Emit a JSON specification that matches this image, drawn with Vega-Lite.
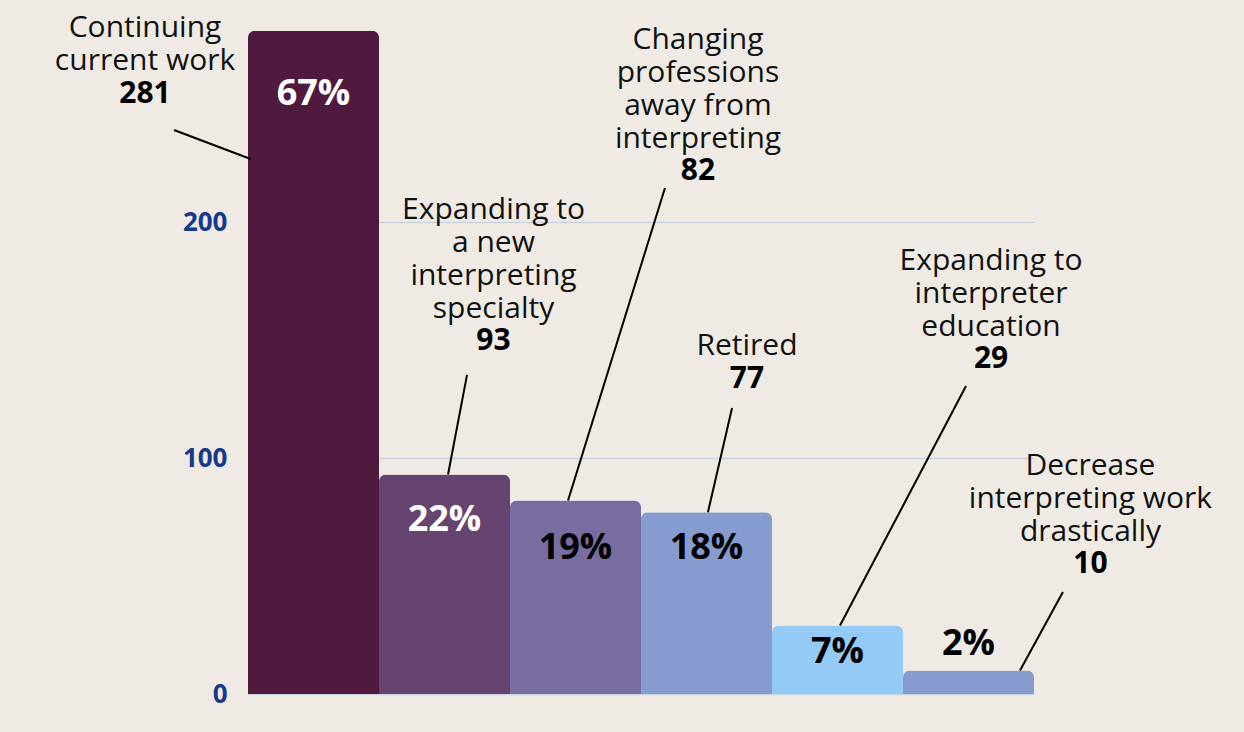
{
  "$schema": "https://vega.github.io/schema/vega-lite/v6.json",
  "width": 786,
  "height": 694,
  "autosize": {"type": "none"},
  "padding": {"left": 248, "top": 0, "right": 210, "bottom": 38},
  "background": "#efebe4",
  "config": {"view": {"stroke": null}, "font": "Open Sans"},
  "datasets": {
    "bars": [
      {"category": "Continuing current work", "count": 281, "pct": "67%", "pctY": 254.4},
      {"category": "Expanding to a new interpreting specialty", "count": 93, "pct": "22%", "pctY": 73.9},
      {"category": "Changing professions away from interpreting", "count": 82, "pct": "19%", "pctY": 61.7},
      {"category": "Retired", "count": 77, "pct": "18%", "pctY": 61.7},
      {"category": "Expanding to interpreter education", "count": 29, "pct": "7%", "pctY": 18.0},
      {"category": "Decrease interpreting work drastically", "count": 10, "pct": "2%", "pctY": 21.0}
    ],
    "notes": [
      {"label": "Continuing\ncurrent work", "count": 281, "lx": -0.786, "ty": 288.5, "ny": 250.4, "ax1": -0.565, "ay1": 239.0, "ax2": 0.02, "ay2": 226.7},
      {"label": "Expanding to\na new\ninterpreting\nspecialty", "count": 93, "lx": 1.874, "ty": 211.4, "ny": 145.8, "ax1": 1.672, "ay1": 135.2, "ax2": 1.527, "ay2": 93},
      {"label": "Changing\nprofessions\naway from\ninterpreting", "count": 82, "lx": 3.435, "ty": 283.5, "ny": 217.8, "ax1": 3.183, "ay1": 214.4, "ax2": 2.443, "ay2": 82},
      {"label": "Retired", "count": 77, "lx": 3.809, "ty": 153.8, "ny": 129.7, "ax1": 3.695, "ay1": 121.2, "ax2": 3.511, "ay2": 77},
      {"label": "Expanding to\ninterpreter\neducation", "count": 29, "lx": 5.672, "ty": 189.8, "ny": 138.0, "ax1": 5.481, "ay1": 130.5, "ax2": 4.519, "ay2": 29},
      {"label": "Decrease\ninterpreting work\ndrastically", "count": 10, "lx": 6.431, "ty": 102.9, "ny": 51.1, "ax1": 6.221, "ay1": 43.2, "ax2": 5.893, "ay2": 10}
    ]
  },
  "resolve": {"scale": {"x": "independent"}},
  "layer": [
    {
      "data": {"name": "bars"},
      "encoding": {
        "x": {"field": "category", "type": "nominal", "sort": null, "axis": null,
              "scale": {"paddingInner": 0, "paddingOuter": 0}}
      },
      "layer": [
        {
          "mark": {"type": "bar", "cornerRadiusTopLeft": 7, "cornerRadiusTopRight": 7},
          "encoding": {
            "y": {"field": "count", "type": "quantitative",
                  "scale": {"domain": [0, 294.07], "nice": false, "zero": true},
                  "axis": {"values": [0, 100, 200], "grid": true, "gridColor": "#c9d2df", "gridWidth": 1.5,
                           "domain": false, "ticks": false, "labelPadding": 21, "labelFontSize": 26,
                           "labelFontWeight": "bold", "labelColor": "#17398c", "title": null}},
            "color": {"field": "category", "type": "nominal", "sort": null, "legend": null,
                      "scale": {"range": ["#4f1a3d", "#67436f", "#786ca1", "#869bd0", "#94caf6", "#869bd0"]}}
          }
        },
        {
          "mark": {"type": "text", "fontSize": 36, "fontWeight": "bold", "baseline": "middle", "align": "center"},
          "encoding": {
            "y": {"field": "pctY", "type": "quantitative"},
            "text": {"field": "pct"},
            "color": {"condition": {"test": "datum.count > 90", "value": "#ffffff"}, "value": "#000000"}
          }
        }
      ]
    },
    {
      "data": {"name": "notes"},
      "encoding": {},
      "layer": [
        {
          "mark": {"type": "rule", "color": "#000000", "strokeWidth": 2},
          "encoding": {
            "x": {"field": "ax1", "type": "quantitative", "scale": {"domain": [0, 6], "nice": false, "zero": false}, "axis": null},
            "x2": {"field": "ax2"},
            "y": {"field": "ay1", "type": "quantitative"},
            "y2": {"field": "ay2"}
          }
        },
        {
          "mark": {"type": "text", "fontSize": 30, "lineHeight": 33, "lineBreak": "\n", "baseline": "top", "align": "center", "color": "#111111"},
          "encoding": {
            "x": {"field": "lx", "type": "quantitative"},
            "y": {"field": "ty", "type": "quantitative"},
            "text": {"field": "label"}
          }
        },
        {
          "mark": {"type": "text", "fontSize": 30, "fontWeight": "bold", "baseline": "alphabetic", "align": "center", "color": "#000000"},
          "encoding": {
            "x": {"field": "lx", "type": "quantitative"},
            "y": {"field": "ny", "type": "quantitative"},
            "text": {"field": "count", "type": "quantitative"}
          }
        }
      ]
    }
  ]
}
